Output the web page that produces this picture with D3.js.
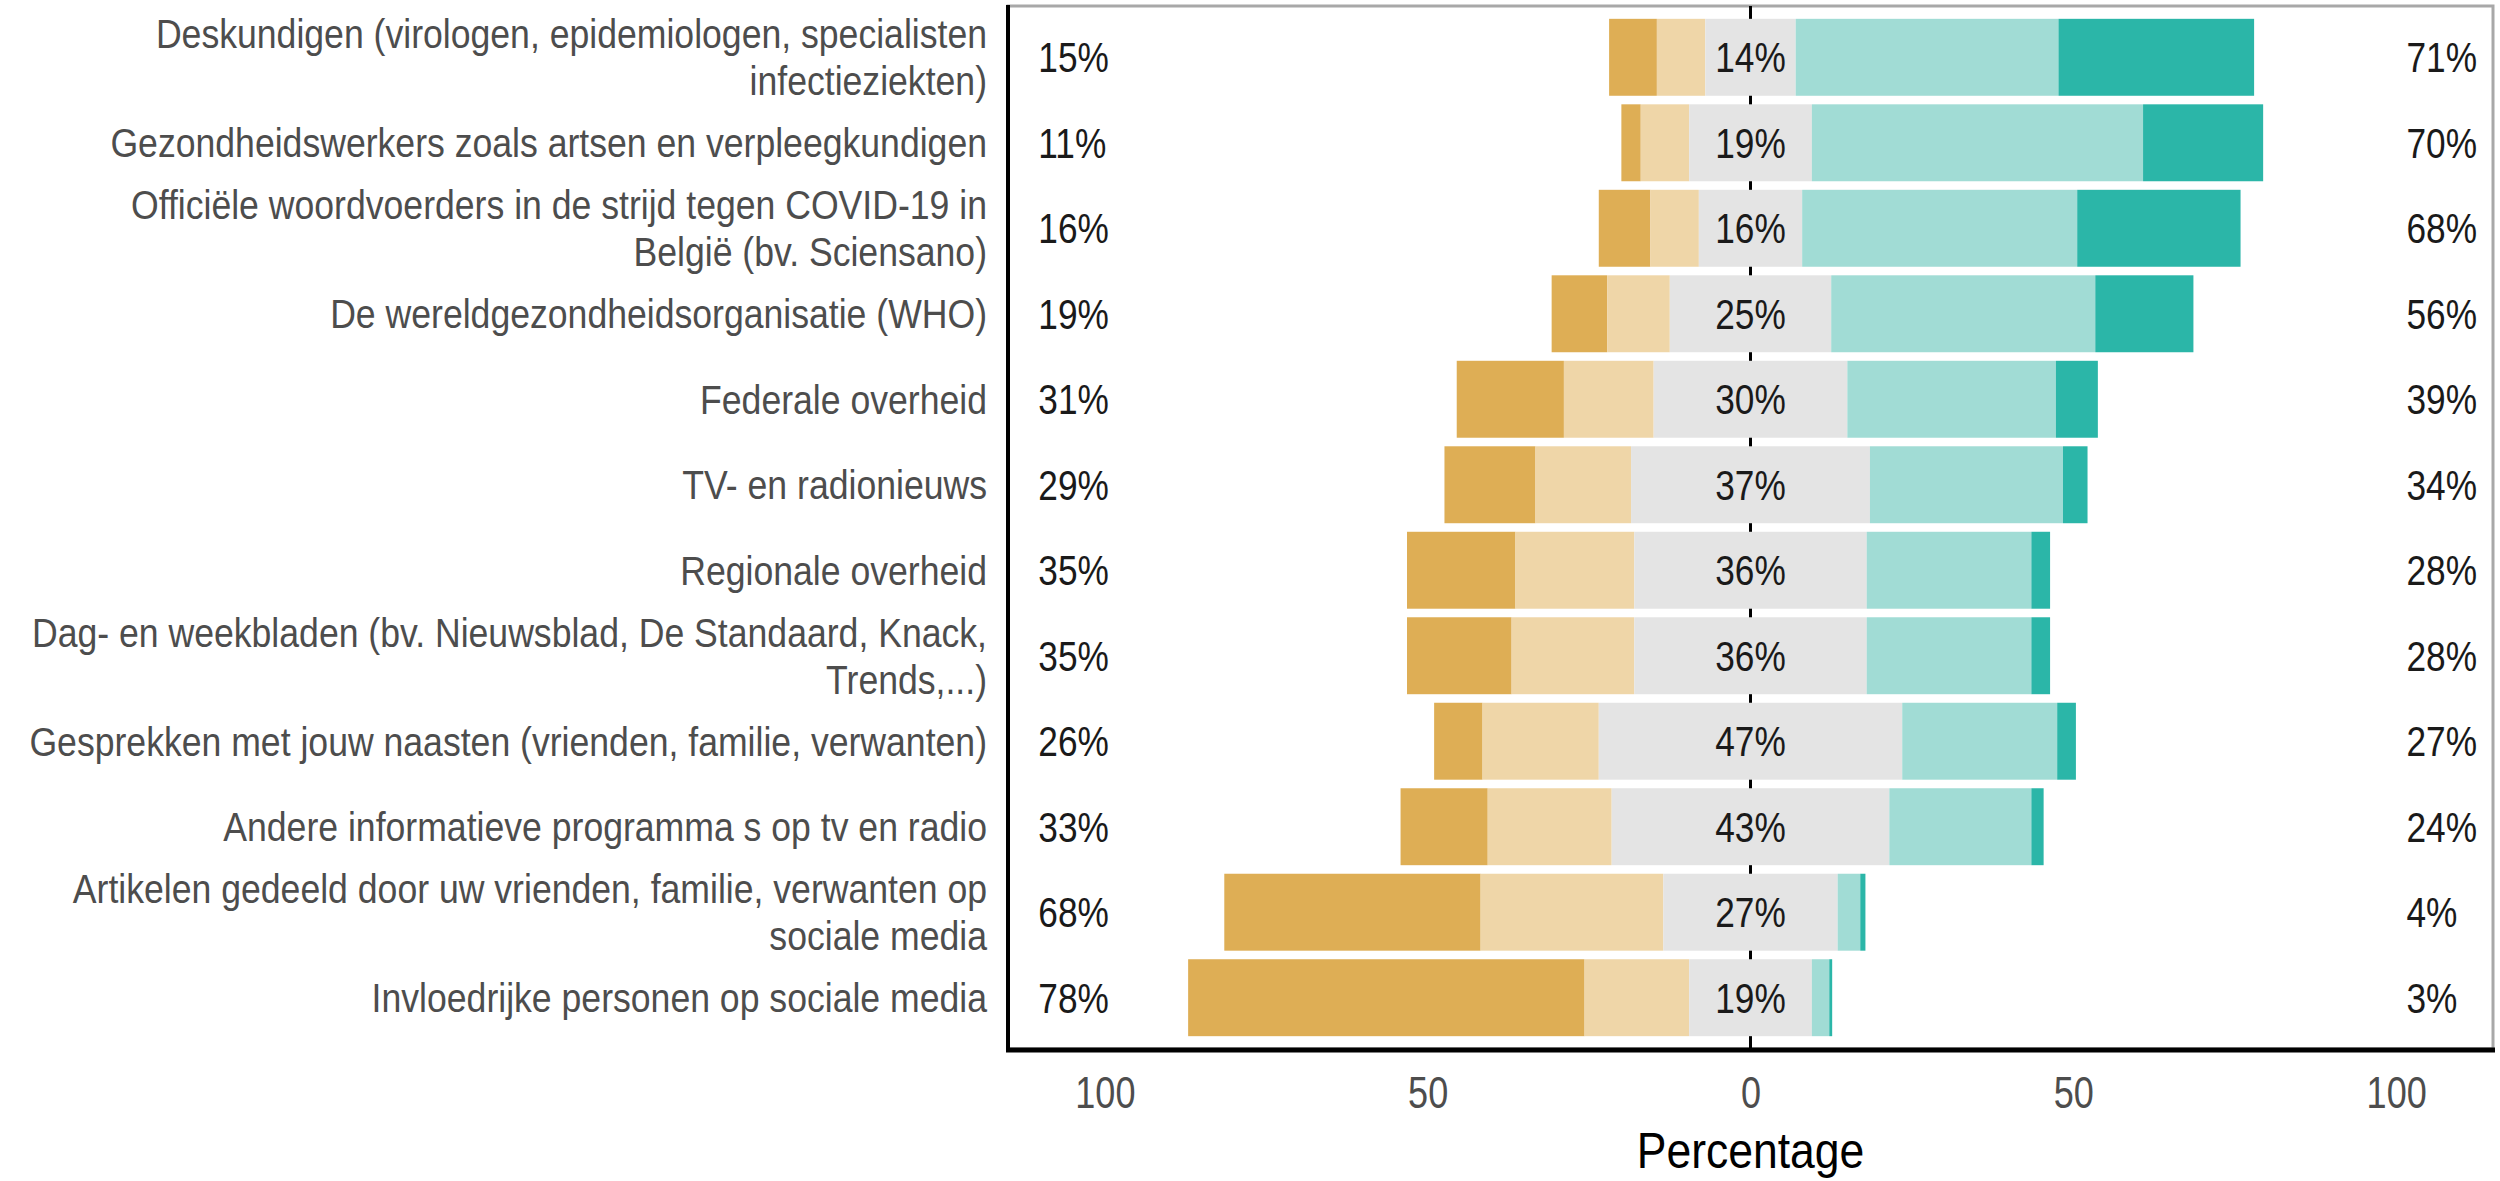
<!DOCTYPE html>
<html>
<head>
<meta charset="utf-8">
<script src="https://cdn.jsdelivr.net/npm/d3@7"></script>
<style>
  html, body { margin: 0; padding: 0; background: #ffffff; }
  svg { display: block; }
</style>
</head>
<body>
<svg id="chart" width="2500" height="1181"></svg>
<script>
// ---------------- DATA ----------------
const categories = [
  "Deskundigen (virologen, epidemiologen, specialisten\ninfectieziekten)",
  "Gezondheidswerkers zoals artsen en verpleegkundigen",
  "Officiële woordvoerders in de strijd tegen COVID-19 in\nBelgië (bv. Sciensano)",
  "De wereldgezondheidsorganisatie (WHO)",
  "Federale overheid",
  "TV- en radionieuws",
  "Regionale overheid",
  "Dag- en weekbladen (bv. Nieuwsblad, De Standaard, Knack,\nTrends,...)",
  "Gesprekken met jouw naasten (vrienden, familie, verwanten)",
  "Andere informatieve programma s op tv en radio",
  "Artikelen gedeeld door uw vrienden, familie, verwanten op\nsociale media",
  "Invloedrijke personen op sociale media"
];
const stronglyDisagree = [7.4, 3.0, 8.0, 8.6, 16.6, 14.1, 16.8, 16.2, 7.5, 13.5, 39.7, 61.4];
const disagree         = [7.5, 7.5, 7.5, 9.7, 13.9, 14.8, 18.4, 19.0, 18.0, 19.2, 28.3, 16.2];
const neutral          = [14, 19, 16, 25, 30, 37, 36, 36, 47, 43, 27, 19];
const agree            = [40.7, 51.3, 42.6, 40.9, 32.3, 29.9, 25.5, 25.5, 24.0, 22.0, 3.5, 2.7];
const stronglyAgree    = [30.3, 18.6, 25.3, 15.2, 6.5, 3.8, 2.9, 2.9, 2.9, 1.9, 0.8, 0.45];

const lowLabels     = ["15%","11%","16%","19%","31%","29%","35%","35%","26%","33%","68%","78%"];
const neutralLabels = ["14%","19%","16%","25%","30%","37%","36%","36%","47%","43%","27%","19%"];
const highLabels    = ["71%","70%","68%","56%","39%","34%","28%","28%","27%","24%","4%","3%"];

const xTicks = [-100, -50, 0, 50, 100];
const axisTitle = "Percentage";
const levelColors = ["#DEAE55", "#EFD6A8", "#E4E4E4", "#A1DCD5", "#2BB6A8"];

// ---------------- LAYOUT ----------------
const panel = { left: 1008, right: 2493, top: 6, bottom: 1049 };
const FONT = "'Liberation Sans', Arial, Helvetica, sans-serif";

const svg = d3.select("#chart");

const x = d3.scaleLinear().domain([-115, 115]).range([panel.left, panel.right]);
const y = d3.scaleBand().domain(d3.range(categories.length))
  .range([panel.top, panel.bottom]).paddingInner(0.1).paddingOuter(0.15);

// build segments
const rows = categories.map((c, i) => {
  const vals = [stronglyDisagree[i], disagree[i], neutral[i], agree[i], stronglyAgree[i]];
  let start = -(stronglyDisagree[i] + disagree[i] + neutral[i] / 2);
  const segs = vals.map((v, k) => {
    const s = { x0: start, x1: start + v, k: k, i: i };
    start += v;
    return s;
  });
  return { i, segs };
});

// panel background + grey frame
svg.append("rect")
  .attr("x", panel.left).attr("y", panel.top)
  .attr("width", panel.right - panel.left).attr("height", panel.bottom - panel.top)
  .attr("fill", "#ffffff").attr("stroke", "#a8a8a8").attr("stroke-width", 3);

// zero line (behind bars)
svg.append("line")
  .attr("x1", x(0)).attr("x2", x(0))
  .attr("y1", panel.top).attr("y2", panel.bottom)
  .attr("stroke", "#000").attr("stroke-width", 3);

// bars
const g = svg.append("g");
g.selectAll("g.row").data(rows).join("g").attr("class", "row")
  .selectAll("rect").data(d => d.segs).join("rect")
  .attr("x", d => x(d.x0))
  .attr("width", d => Math.max(0, x(d.x1) - x(d.x0)))
  .attr("y", d => y(d.i))
  .attr("height", y.bandwidth())
  .attr("fill", d => levelColors[d.k]);

// helper: horizontally condensed text
function condText(sel, sx) {
  return sel.attr("transform", function(d) {
    const t = d3.select(this);
    return `translate(${t.attr("data-x")},${t.attr("data-y")}) scale(${sx},1)`;
  });
}

const pctSize = 42, pctSx = 0.84;
const cy = i => y(i) + y.bandwidth() / 2;

// low labels
svg.append("g").selectAll("text").data(lowLabels).join("text")
  .attr("data-x", x(-110.3)).attr("data-y", (d, i) => cy(i) + pctSize * 0.358)
  .attr("font-family", FONT).attr("font-size", pctSize).attr("fill", "#1a1a1a")
  .attr("text-anchor", "start").text(d => d)
  .call(condText, pctSx);

// neutral labels
svg.append("g").selectAll("text").data(neutralLabels).join("text")
  .attr("data-x", x(0)).attr("data-y", (d, i) => cy(i) + pctSize * 0.358)
  .attr("font-family", FONT).attr("font-size", pctSize).attr("fill", "#1a1a1a")
  .attr("text-anchor", "middle").text(d => d)
  .call(condText, pctSx);

// high labels
svg.append("g").selectAll("text").data(highLabels).join("text")
  .attr("data-x", x(101.6)).attr("data-y", (d, i) => cy(i) + pctSize * 0.358)
  .attr("font-family", FONT).attr("font-size", pctSize).attr("fill", "#1a1a1a")
  .attr("text-anchor", "start").text(d => d)
  .call(condText, pctSx);

// category labels (y axis)
const catSize = 40, catSx = 0.89, lineGap = 47;
const yAxis = d3.axisLeft(y).tickSize(0).tickPadding(0).tickFormat("");
const yAxisG = svg.append("g").attr("transform", `translate(${panel.left},0)`).call(yAxis);
yAxisG.select(".domain").remove();
yAxisG.selectAll(".tick").each(function(i) {
  const lines = categories[i].split("\n");
  const n = lines.length;
  const t = d3.select(this).append("text")
    .attr("transform", `translate(-21, ${catSize * 0.358 - (n - 1) * lineGap / 2}) scale(${catSx},1)`)
    .attr("font-family", FONT).attr("font-size", catSize).attr("fill", "#4d4d4d")
    .attr("text-anchor", "end");
  lines.forEach((ln, k) => {
    t.append("tspan").attr("x", 0).attr("dy", k === 0 ? 0 : lineGap).text(ln);
  });
});

// x axis
const xAxis = d3.axisBottom(x).tickValues(xTicks).tickSize(0).tickPadding(0)
  .tickFormat(d => String(Math.abs(d)));
const xAxisG = svg.append("g").attr("transform", `translate(0,${panel.bottom})`).call(xAxis);
xAxisG.select(".domain").remove();
xAxisG.selectAll(".tick text")
  .attr("font-family", FONT).attr("font-size", 44).attr("fill", "#4d4d4d")
  .attr("dy", null).attr("y", 0)
  .attr("transform", "translate(0,59) scale(0.82,1)");

// black axis lines (left + bottom)
svg.append("line")
  .attr("x1", panel.left).attr("x2", panel.left)
  .attr("y1", panel.top - 1).attr("y2", panel.bottom)
  .attr("stroke", "#000").attr("stroke-width", 4);
svg.append("line")
  .attr("x1", panel.left - 2).attr("x2", panel.right + 2)
  .attr("y1", panel.bottom + 1).attr("y2", panel.bottom + 1)
  .attr("stroke", "#000").attr("stroke-width", 5);

// axis title
svg.append("text")
  .attr("transform", `translate(${x(0)},1168) scale(0.89,1)`)
  .attr("font-family", FONT).attr("font-size", 50).attr("fill", "#000")
  .attr("text-anchor", "middle").text(axisTitle);
</script>
</body>
</html>
